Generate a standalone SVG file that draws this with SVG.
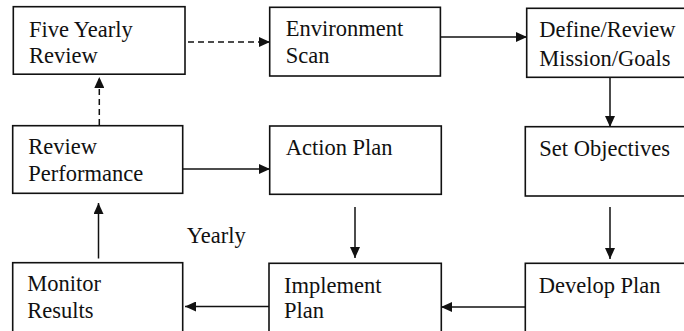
<svg xmlns="http://www.w3.org/2000/svg" width="684" height="331" viewBox="0 0 684 331">
<style>
.box{fill:#fff;stroke:#111;stroke-width:1.6}
text{font-family:'Liberation Serif','Times New Roman','DejaVu Serif',serif;font-size:22.5px;fill:#111}
.c{stroke:#111;stroke-width:1.5;fill:none}
.d{stroke-dasharray:6 4}
</style>
<defs>
<marker id="ah" markerUnits="userSpaceOnUse" markerWidth="11" markerHeight="10" refX="11" refY="5" orient="auto">
<path d="M0,0 L11,5 L0,10 z" fill="#111"/>
</marker>
</defs>
<rect width="684" height="331" fill="#fff"/>
<g id="connectors">
<line class="c d" x1="188" y1="42" x2="270" y2="42" marker-end="url(#ah)"/>
<line class="c" x1="441" y1="37" x2="527" y2="37" marker-end="url(#ah)"/>
<line class="c" x1="610" y1="77" x2="610" y2="127" marker-end="url(#ah)"/>
<line class="c" x1="610" y1="207" x2="610" y2="259" marker-end="url(#ah)"/>
<line class="c" x1="525" y1="307" x2="441" y2="307" marker-end="url(#ah)"/>
<line class="c" x1="269" y1="306.5" x2="185" y2="306.5" marker-end="url(#ah)"/>
<line class="c" x1="98.5" y1="258.5" x2="98.5" y2="203" marker-end="url(#ah)"/>
<line class="c" x1="183" y1="169" x2="270" y2="169" marker-end="url(#ah)"/>
<line class="c" x1="355" y1="207" x2="355" y2="258" marker-end="url(#ah)"/>
<line class="c d" x1="99.3" y1="125" x2="99.3" y2="77" marker-end="url(#ah)"/>
</g>
<g id="five-yearly-review" font-family="Liberation Serif, serif">
<rect class="box" x="13.3" y="6.7" width="171.7" height="67.5"/>
<text x="29" y="36.7">Five Yearly</text>
<text x="29" y="62.7">Review</text>
</g>
<g id="environment-scan" font-family="Liberation Serif, serif">
<rect class="box" x="269.7" y="7.3" width="170.7" height="68.7"/>
<text x="285.7" y="36.3">Environment</text>
<text x="285.7" y="62.7">Scan</text>
</g>
<g id="define-review" font-family="Liberation Serif, serif">
<rect class="box" x="526.7" y="8.3" width="170" height="69"/>
<text x="539.3" y="36.5">Define/Review</text>
<text x="539.3" y="66">Mission/Goals</text>
</g>
<g id="review-performance" font-family="Liberation Serif, serif">
<rect class="box" x="12.7" y="125.7" width="170" height="67.6"/>
<text x="28.3" y="154.3">Review</text>
<text x="28.3" y="180.7">Performance</text>
</g>
<g id="action-plan" font-family="Liberation Serif, serif">
<rect class="box" x="269.7" y="126" width="171.6" height="68.3"/>
<text x="285.7" y="155">Action Plan</text>
</g>
<g id="set-objectives" font-family="Liberation Serif, serif">
<rect class="box" x="525.3" y="126.7" width="170" height="69.3"/>
<text x="539.3" y="156">Set Objectives</text>
</g>
<g id="monitor-results" font-family="Liberation Serif, serif">
<rect class="box" x="12.7" y="262.7" width="170" height="75"/>
<text x="27.3" y="291">Monitor</text>
<text x="27.3" y="317.7">Results</text>
</g>
<g id="implement-plan" font-family="Liberation Serif, serif">
<rect class="box" x="269" y="263.3" width="172.3" height="75"/>
<text x="284" y="292.7">Implement</text>
<text x="284" y="317.7">Plan</text>
</g>
<g id="develop-plan" font-family="Liberation Serif, serif">
<rect class="box" x="525.3" y="263.3" width="170" height="75"/>
<text x="538.7" y="292.7">Develop Plan</text>
</g>
<g id="yearly-label">
<text x="186.7" y="242.7">Yearly</text>
</g>
</svg>
